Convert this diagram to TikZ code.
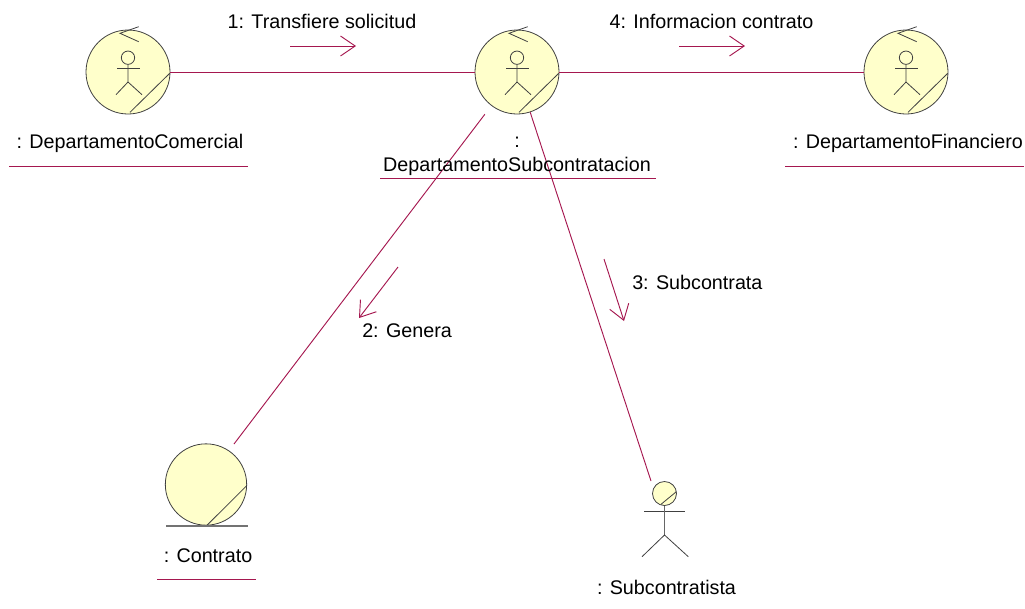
\documentclass[tikz,border=0pt]{standalone}
\usepackage{fontspec}
\setmainfont{Liberation Sans}
\usetikzlibrary{arrows.meta}
\definecolor{linkred}{HTML}{A5174F}
\definecolor{objfill}{HTML}{FFFFCB}
\tikzset{
  obj/.style={circle,draw=black!75,fill=objfill,line width=.6pt,inner sep=0,minimum size=63pt},
  fig/.style={draw=black!75,line width=.6pt},
  link/.style={draw=linkred,line width=.7pt},
  msg/.style={link,-{Straight Barb[length=11pt,width=15pt]}},
  uline/.style={link},
  lbl/.style={inner sep=0,font=\fontsize{14.8pt}{18pt}\selectfont,align=center}
}
\begin{document}
\begin{tikzpicture}[x=.75pt,y=-.75pt]
\useasboundingbox(0,0)rectangle(1025,608);
% objects
\node[obj](dc)at(128,72){};
\node[obj](ds)at(517,72){};
\node[obj](df)at(906,72){};
\node[obj,minimum size=61pt](co)at(206,484.5){};
\node[circle,draw=black!75,fill=objfill,line width=.6pt,inner sep=0,minimum size=18pt](su)at(664.5,493.5){};
% control marks and stick figures
\foreach \n in {dc,ds,df}{
\begin{scope}[shift={(\n)}]
\draw[fig](10.7,-45.3)--(-8,-38.7)--(10.7,-30.3);
\draw[fig](0,-14.3)circle(5pt);
\draw[fig](-10.7,-3.3)--(12,-3.3);
\draw[fig](0,-7.6)--(0,10)(-12,22.7)--(0,10)--(14,22.7);
\draw[fig](41.7,1.3)--(2,40.3);
\end{scope}}
\draw[fig](co.south)++(.7,0)--(246.7,485.7);
\draw[draw=black!55,line width=.8pt](166,526)--(247.7,526);
\draw[fig](676.3,491.7)--(661,504.3);
\draw[fig](644.3,511.3)--(685.3,511.3);
\draw[draw=black!60,line width=.7pt](su.south)--(664.5,535);
\draw[fig](642,556.7)--(664.5,535)--(688.3,556.7);
% links
\coordinate(co end)at(234,444);
\coordinate(su end)at(651,481);
\draw[link](dc)--(ds);
\draw[link](ds)--(df);
\draw[link,shorten <=8pt](ds)--(co end);
\draw[link](ds)--(su end);
% messages
\coordinate(m1a)at(290,46);\coordinate(m1b)at(356,46);
\coordinate(m2a)at(398,267);\coordinate(m2b)at(359,318);
\coordinate(m3a)at(604,259);\coordinate(m3b)at(624,321);
\coordinate(m4a)at(679,46);\coordinate(m4b)at(745,46);
\draw[msg](m1a)--(m1b);
\draw[msg](m2a)--(m2b);
\draw[msg](m3a)--(m3b);
\draw[msg](m4a)--(m4b);
\node[lbl](m1)at(322,21){1: Transfiere solicitud};
\node[lbl,anchor=west](m2)at(362,331){2: Genera};
\node[lbl,anchor=west](m3)at(632,282){3: Subcontrata};
\node[lbl](m4)at(711.5,21){4: Informacion contrato};
% object names
\node[lbl](dcn)at(130,143.5){: DepartamentoComercial};
\node[lbl](dsn)at(517,156.5){:\\DepartamentoSubcontratacion};
\node[lbl](dfn)at(908,143.5){: DepartamentoFinanciero};
\node[lbl](con)at(208,556){: Contrato};
\node[lbl](sun)at(666.5,587){: Subcontratista};
\draw[uline](9,166)--(248,166);
\draw[uline](380,178.5)--(656,178.5);
\draw[uline](785,166)--(1024,166);
\draw[uline](157,579)--(256,579);
\end{tikzpicture}
\end{document}
